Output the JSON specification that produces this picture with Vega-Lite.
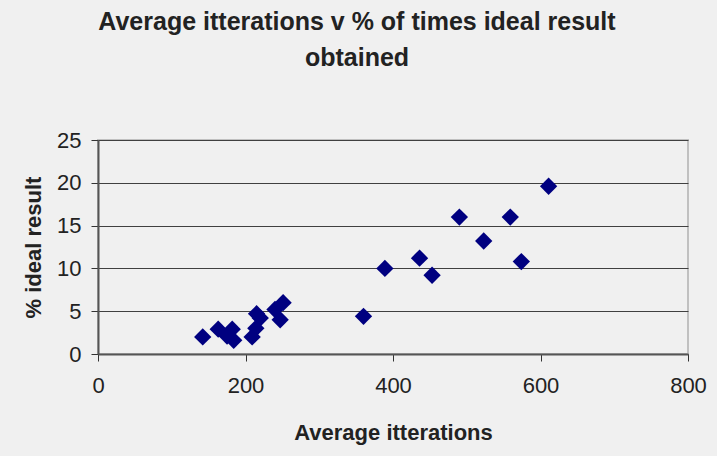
{
  "$schema": "https://vega.github.io/schema/vega-lite/v6.json",
  "width": 590,
  "height": 214,
  "autosize": "none",
  "padding": {"left": 98, "top": 140, "right": 29, "bottom": 102},
  "background": "#f0f0f0",
  "title": {
    "text": ["Average itterations v % of times ideal result", "obtained"],
    "font": "Liberation Sans",
    "fontSize": 25,
    "fontWeight": "bold",
    "color": "#222222",
    "anchor": "middle",
    "dx": -36,
    "lineHeight": 36,
    "offset": 58
  },
  "config": {
    "view": {"stroke": "#c0c0c0", "strokeWidth": 2, "fill": "#f0f0f0"},
    "axis": {
      "labelFont": "Liberation Sans",
      "labelFontSize": 22,
      "labelColor": "#222222",
      "titleFont": "Liberation Sans",
      "titleFontSize": 22,
      "titleFontWeight": "bold",
      "titleColor": "#222222",
      "domainColor": "#555555",
      "domainWidth": 2,
      "tickColor": "#333333",
      "tickSize": 7,
      "gridColor": "#404040",
      "gridWidth": 1,
      "gridOpacity": 1,
      "labelFlush": false
    }
  },
  "data": {
    "values": [
      {"iterations": 142, "pct": 2.0},
      {"iterations": 163, "pct": 2.9},
      {"iterations": 175, "pct": 2.1},
      {"iterations": 182, "pct": 2.9},
      {"iterations": 184, "pct": 1.6},
      {"iterations": 209, "pct": 2.0},
      {"iterations": 214, "pct": 3.0},
      {"iterations": 215, "pct": 4.7},
      {"iterations": 220, "pct": 4.2},
      {"iterations": 240, "pct": 5.2},
      {"iterations": 247, "pct": 4.0},
      {"iterations": 251, "pct": 6.0},
      {"iterations": 360, "pct": 4.4},
      {"iterations": 389, "pct": 10.0},
      {"iterations": 436, "pct": 11.2},
      {"iterations": 453, "pct": 9.2},
      {"iterations": 490, "pct": 16.0},
      {"iterations": 523, "pct": 13.2},
      {"iterations": 559, "pct": 16.0},
      {"iterations": 574, "pct": 10.8},
      {"iterations": 611, "pct": 19.6}
    ]
  },
  "mark": {"type": "point", "shape": "diamond", "filled": true, "color": "#000080", "opacity": 1, "size": 300},
  "encoding": {
    "x": {
      "field": "iterations",
      "type": "quantitative",
      "title": "Average itterations",
      "scale": {"domain": [0, 800], "nice": false, "zero": true},
      "axis": {"values": [0, 200, 400, 600, 800], "grid": false, "labelPadding": 14, "titlePadding": 26, "labelFlush": false}
    },
    "y": {
      "field": "pct",
      "type": "quantitative",
      "title": "% ideal result",
      "scale": {"domain": [0, 25], "nice": false},
      "axis": {"values": [0, 5, 10, 15, 20, 25], "grid": true, "labelPadding": 10, "titlePadding": 11, "labelFlush": false}
    }
  }
}
